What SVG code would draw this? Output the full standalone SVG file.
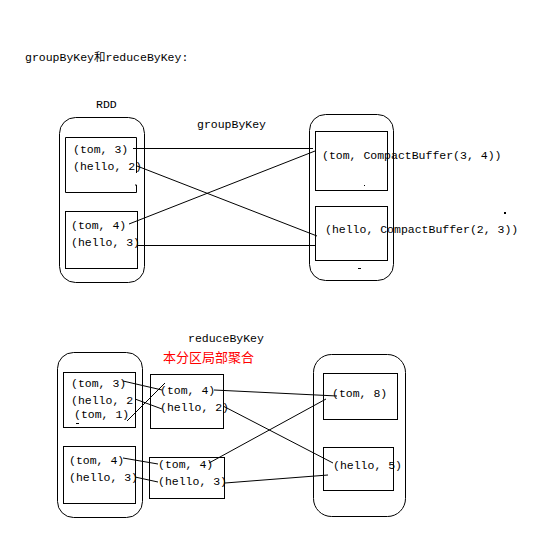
<svg xmlns="http://www.w3.org/2000/svg" width="537" height="546" viewBox="0 0 537 546">
<style>
text{font-family:"Liberation Mono","DejaVu Sans Mono","Noto Sans CJK SC",monospace;font-size:11.5px;fill:#000}
.cn{font-family:"Noto Sans CJK SC","Noto Sans CJK TC",sans-serif;font-size:13px;fill:#ff0000}
.b{fill:none;stroke:#000;stroke-width:1}
.c line{stroke:#000;stroke-width:1}
</style>
<rect width="537" height="546" fill="#fff"/>
<text x="25" y="61">groupByKey和reduceByKey:</text>
<text x="96" y="108">RDD</text>
<text x="197" y="128">groupByKey</text>

<g id="rdd1">
<rect class="b" x="59.5" y="117.5" width="85" height="165" rx="16"/>
<g id="p1">
<path class="b" d="M136.5,173 V137.5 H65.5 V192.5 H136.5 V185 M136.5,185 h-1.5"/>
<text x="73" y="153">(tom, 3)</text>
<text x="73" y="170">(hello, 2)</text>
</g>
<g id="p2">
<rect class="b" x="65.5" y="211.5" width="72" height="57"/>
<text x="71" y="229">(tom, 4)</text>
<text x="71" y="246">(hello, 3)</text>
</g>
</g>

<g id="grp1">
<rect class="b" x="309.5" y="114.5" width="84" height="166" rx="16"/>
<g id="g1">
<rect class="b" x="315.5" y="131.5" width="72" height="59"/>
<text x="322" y="159">(tom, CompactBuffer(3, 4))</text>
<rect x="364" y="185" width="1" height="1" fill="#000"/>
</g>
<g id="g2">
<rect class="b" x="315.5" y="206.5" width="72" height="54"/>
<text x="325" y="233">(hello, CompactBuffer(2, 3))</text>
<rect x="358" y="268" width="3" height="1" fill="#000"/>
</g>
</g>
<rect x="504" y="212" width="2" height="2" fill="#000"/>

<g id="connectors1" class="c">
<line x1="133" y1="148.5" x2="313" y2="148.5"/>
<line x1="137" y1="166" x2="317" y2="236"/>
<line x1="129" y1="224" x2="315" y2="151"/>
<line x1="137" y1="245.5" x2="315" y2="245.5"/>
</g>

<text x="188" y="342">reduceByKey</text>
<text class="cn" x="163" y="362">本分区局部聚合</text>

<g id="rdd2">
<rect class="b" x="57.5" y="352.5" width="85" height="165" rx="16"/>
<g id="q1">
<rect class="b" x="63.5" y="372.5" width="72" height="55"/>
<text x="71" y="387">(tom, 3)</text>
<text x="71" y="404">(hello, 2</text>
<text x="74" y="418">(tom, 1)</text>
<rect x="76" y="423" width="3" height="1" fill="#000"/>
</g>
<g id="q2">
<rect class="b" x="63.5" y="446.5" width="72" height="57"/>
<text x="69" y="464">(tom, 4)</text>
<text x="69" y="481">(hello, 3)</text>
</g>
</g>

<g id="m1">
<rect class="b" x="150.5" y="374.5" width="73" height="54"/>
<text x="160" y="394">(tom, 4)</text>
<text x="160" y="411">(hello, 2)</text>
</g>
<g id="m2">
<rect class="b" x="149.5" y="457.5" width="75" height="41"/>
<text x="158" y="468">(tom, 4)</text>
<text x="158" y="485">(hello, 3)</text>
</g>

<g id="res">
<rect class="b" x="313.5" y="354.5" width="92" height="162" rx="18"/>
<g id="r1">
<rect class="b" x="323.5" y="373.5" width="74" height="46"/>
<text x="332" y="397">(tom, 8)</text>
</g>
<g id="r2">
<rect class="b" x="323.5" y="447.5" width="70" height="43"/>
<text x="333" y="469">(hello, 5)</text>
</g>
</g>

<g id="connectors2" class="c">
<line x1="123" y1="381" x2="162" y2="390"/>
<line x1="135" y1="399" x2="162" y2="409"/>
<line x1="127" y1="421" x2="165" y2="383"/>
<line x1="123" y1="458" x2="158" y2="464"/>
<line x1="135" y1="477" x2="158" y2="482"/>
<line x1="214" y1="390" x2="337" y2="396"/>
<line x1="223" y1="406" x2="333" y2="463"/>
<line x1="209" y1="463" x2="326" y2="399"/>
<line x1="225" y1="483" x2="328" y2="475"/>
</g>
</svg>
